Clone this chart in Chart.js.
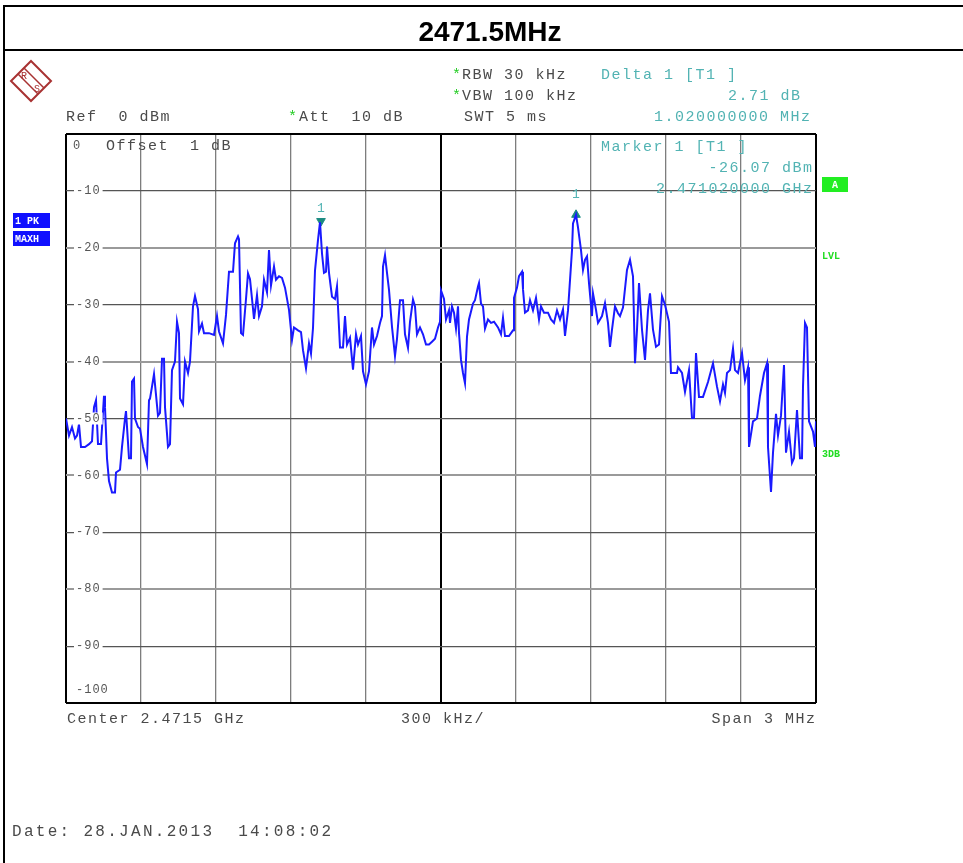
<!DOCTYPE html>
<html>
<head>
<meta charset="utf-8">
<title>2471.5MHz</title>
<script src="https://cdn.jsdelivr.net/npm/chart.js@4.4.1/dist/chart.umd.min.js"></script>
<style>
  html, body { margin: 0; padding: 0; background: #fff; }
  #wrap { position: relative; width: 963px; height: 863px; }
</style>
</head>
<body>
<div id="wrap"><canvas id="spec" width="963" height="863"></canvas></div>
<script>
// trace: frequency (MHz) and level (dBm)
var traceFreq = [
  2470.000, 2470.012, 2470.024, 2470.036, 2470.044, 2470.052, 2470.060, 2470.076, 2470.092, 2470.104,
  2470.112, 2470.120, 2470.128, 2470.140, 2470.152, 2470.156, 2470.164, 2470.172, 2470.184, 2470.196,
  2470.200, 2470.216, 2470.224, 2470.236, 2470.240, 2470.252, 2470.260, 2470.264, 2470.272, 2470.276,
  2470.288, 2470.296, 2470.308, 2470.324, 2470.332, 2470.336, 2470.344, 2470.352, 2470.356, 2470.368,
  2470.376, 2470.384, 2470.392, 2470.396, 2470.408, 2470.416, 2470.424, 2470.436, 2470.444, 2470.452,
  2470.456, 2470.468, 2470.476, 2470.488, 2470.496, 2470.508, 2470.516, 2470.528, 2470.532, 2470.544,
  2470.552, 2470.572, 2470.592, 2470.604, 2470.612, 2470.628, 2470.640, 2470.652, 2470.668, 2470.676,
  2470.688, 2470.692, 2470.700, 2470.708, 2470.720, 2470.728, 2470.736, 2470.748, 2470.752, 2470.764,
  2470.772, 2470.784, 2470.792, 2470.804, 2470.812, 2470.820, 2470.832, 2470.840, 2470.852, 2470.864,
  2470.876, 2470.892, 2470.904, 2470.912, 2470.928, 2470.940, 2470.948, 2470.960, 2470.972, 2470.980,
  2470.988, 2470.996, 2471.008, 2471.016, 2471.024, 2471.032, 2471.040, 2471.044, 2471.052, 2471.064,
  2471.076, 2471.084, 2471.096, 2471.108, 2471.116, 2471.124, 2471.136, 2471.148, 2471.160, 2471.168,
  2471.180, 2471.188, 2471.200, 2471.212, 2471.224, 2471.232, 2471.244, 2471.256, 2471.264, 2471.268,
  2471.276, 2471.284, 2471.292, 2471.304, 2471.316, 2471.324, 2471.336, 2471.348, 2471.356, 2471.368,
  2471.376, 2471.388, 2471.396, 2471.404, 2471.416, 2471.428, 2471.440, 2471.452, 2471.464, 2471.476,
  2471.488, 2471.496, 2471.500, 2471.512, 2471.520, 2471.532, 2471.536, 2471.544, 2471.552, 2471.560,
  2471.568, 2471.572, 2471.580, 2471.588, 2471.596, 2471.604, 2471.612, 2471.628, 2471.636, 2471.648,
  2471.652, 2471.660, 2471.668, 2471.676, 2471.688, 2471.700, 2471.712, 2471.728, 2471.740, 2471.748,
  2471.756, 2471.772, 2471.788, 2471.792, 2471.804, 2471.812, 2471.824, 2471.828, 2471.836, 2471.848,
  2471.856, 2471.868, 2471.880, 2471.892, 2471.900, 2471.912, 2471.928, 2471.940, 2471.952, 2471.964,
  2471.976, 2471.988, 2471.996, 2472.008, 2472.024, 2472.028, 2472.040, 2472.048, 2472.060, 2472.068,
  2472.076, 2472.084, 2472.092, 2472.104, 2472.108, 2472.120, 2472.128, 2472.144, 2472.156, 2472.168,
  2472.176, 2472.184, 2472.196, 2472.208, 2472.216, 2472.228, 2472.244, 2472.256, 2472.268, 2472.276,
  2472.284, 2472.292, 2472.304, 2472.316, 2472.328, 2472.336, 2472.348, 2472.360, 2472.372, 2472.384,
  2472.396, 2472.412, 2472.420, 2472.424, 2472.444, 2472.448, 2472.464, 2472.476, 2472.492, 2472.504,
  2472.512, 2472.520, 2472.532, 2472.548, 2472.568, 2472.588, 2472.604, 2472.616, 2472.628, 2472.636,
  2472.644, 2472.656, 2472.668, 2472.676, 2472.688, 2472.704, 2472.716, 2472.728, 2472.732, 2472.748,
  2472.764, 2472.776, 2472.792, 2472.804, 2472.808, 2472.820, 2472.828, 2472.840, 2472.848, 2472.860,
  2472.872, 2472.880, 2472.892, 2472.904, 2472.912, 2472.924, 2472.936, 2472.944, 2472.948, 2472.956,
  2472.964, 2472.972, 2472.988, 2472.996, 2473.000
];
var traceLevel = [
  -50.0, -53.0, -51.5, -53.5, -53.0, -51.0, -55.0, -55.0, -54.5, -54.0,
  -48.0, -46.8, -54.5, -54.5, -46.0, -48.0, -57.0, -61.0, -63.0, -63.0,
  -59.5, -59.0, -55.0, -50.0, -48.7, -57.0, -57.0, -43.5, -43.0, -50.0,
  -51.5, -51.8, -55.0, -58.0, -46.8, -46.5, -44.4, -42.2, -44.0, -49.5,
  -49.0, -39.5, -39.5, -48.0, -55.0, -54.5, -41.5, -40.0, -33.0, -35.0,
  -46.5, -47.5, -40.0, -42.0, -40.0, -30.3, -28.5, -30.8, -34.7, -33.3,
  -35.0, -35.0, -35.3, -32.0, -34.7, -36.8, -31.8, -24.2, -24.2, -19.2,
  -18.0, -18.5, -35.0, -35.3, -29.0, -24.5, -25.5, -30.7, -32.5, -28.3,
  -32.0, -30.3, -25.6, -27.8, -20.4, -26.6, -23.3, -25.6, -25.0, -25.3,
  -27.0, -30.9, -36.2, -34.0, -34.5, -34.8, -38.0, -41.2, -36.8, -38.6,
  -34.1, -24.0, -18.6, -15.5, -21.0, -24.4, -24.2, -19.8, -24.4, -28.6,
  -29.0, -26.8, -37.5, -37.5, -32.0, -37.0, -35.8, -41.4, -35.2, -37.0,
  -35.5, -41.7, -44.0, -41.7, -34.0, -37.0, -35.5, -33.2, -32.0, -23.3,
  -21.3, -24.4, -27.4, -33.9, -39.0, -36.0, -29.2, -29.2, -35.2, -37.6,
  -33.0, -29.1, -30.3, -35.2, -34.0, -35.2, -37.0, -37.0, -36.5, -36.0,
  -34.0, -33.0, -27.5, -29.0, -32.6, -31.0, -33.2, -30.3, -31.4, -34.2,
  -30.3, -35.0, -39.7, -42.0, -43.8, -35.6, -32.6, -29.8, -29.2, -26.8,
  -26.2, -29.8, -30.3, -34.2, -32.6, -33.2, -33.0, -34.0, -35.2, -32.3,
  -35.5, -35.5, -34.5, -28.8, -27.0, -25.0, -24.2, -27.3, -31.4, -31.0,
  -29.2, -31.0, -28.8, -32.6, -30.3, -31.4, -31.4, -32.6, -33.2, -31.0,
  -32.6, -30.8, -35.5, -31.0, -20.4, -15.7, -14.2, -16.4, -20.4, -23.9,
  -22.1, -21.5, -26.2, -32.0, -28.0, -30.9, -33.2, -32.0, -29.7, -33.2,
  -37.4, -34.4, -30.3, -31.5, -32.0, -30.5, -23.9, -22.1, -25.0, -40.3,
  -34.4, -26.2, -34.4, -39.7, -31.0, -28.0, -34.4, -37.4, -37.0, -28.5,
  -30.0, -33.0, -42.0, -42.0, -42.0, -41.0, -42.0, -45.3, -41.5, -49.9,
  -49.9, -38.5, -46.2, -46.2, -43.6, -40.3, -44.4, -47.0, -44.0, -45.5,
  -42.0, -41.5, -37.7, -41.5, -42.0, -38.5, -43.3, -41.0, -55.0, -50.5,
  -50.0, -46.0, -42.0, -40.3, -55.0, -62.9, -56.0, -49.2, -53.0, -49.5,
  -40.6, -56.0, -52.3, -57.8, -57.0, -48.5, -57.0, -57.0, -44.4, -33.2,
  -34.0, -50.5, -52.3, -55.0, -50.5
];

// markers: 1 (normal) and delta 1
var markerFreq = [2471.02, 2472.04];
var markerLevel = [-15.3, -14.2];
var markerLabel = ['1', '1'];

// axes
var freqStart = 2470.0;
var freqStop = 2473.0;
var freqCenter = 2471.5;
var xGrid = [2470.0, 2470.3, 2470.6, 2470.9, 2471.2, 2471.5, 2471.8, 2472.1, 2472.4, 2472.7, 2473.0];
var levelTop = 0;
var levelBottom = -100;
var yTickLabels = ['0', '-10', '-20', '-30', '-40', '-50', '-60', '-70', '-80', '-90', '-100'];
var yGrid = [0, -10, -20, -30, -40, -50, -60, -70, -80, -90, -100];

var MONO = "'Liberation Mono', 'DejaVu Sans Mono', monospace";
var TEAL = '#52b3b3';
var GRAY_TXT = '#4a4a4a';

function monoText(ctx, txt, x, y, size, color, align, spacing) {
    var sp = (spacing === undefined ? 1.5 : spacing);
    ctx.font = size + 'px ' + MONO;
    ctx.fillStyle = color;
    ctx.letterSpacing = sp + 'px';
    ctx.textBaseline = 'middle';
    ctx.textAlign = 'left';
    if (align == 'right') {
        var w = ctx.measureText(txt).width - sp;
        ctx.fillText(txt, x - w, y);
    } else {
        ctx.fillText(txt, x, y);
    }
    ctx.letterSpacing = '0px';
}

function drawLogo(ctx, cx, cy, r) {
    ctx.save();
    ctx.strokeStyle = '#a83232';
    ctx.lineWidth = 2;
    ctx.beginPath();
    ctx.moveTo(cx, cy - r);
    ctx.lineTo(cx + r, cy);
    ctx.lineTo(cx, cy + r);
    ctx.lineTo(cx - r, cy);
    ctx.closePath();
    ctx.stroke();
    ctx.lineWidth = 1.5;
    ctx.beginPath();
    ctx.moveTo(cx - r / 2 - 3, cy - r / 2 + 3);
    ctx.lineTo(cx + r / 2 - 3, cy + r / 2 + 3);
    ctx.moveTo(cx - r / 2 + 3, cy - r / 2 - 3);
    ctx.lineTo(cx + r / 2 + 3, cy + r / 2 - 3);
    ctx.stroke();
    ctx.fillStyle = '#a83232';
    ctx.font = '10px ' + MONO;
    ctx.textAlign = 'center';
    ctx.textBaseline = 'middle';
    ctx.fillText('R', cx - 7, cy - 5);
    ctx.fillText('S', cx + 6, cy + 8);
    ctx.restore();
}

var pagePlugin = {
    id: 'page',
    beforeDraw: function(chart) {
        var ctx = chart.ctx;
        ctx.save();
        ctx.fillStyle = '#fff';
        ctx.fillRect(0, 0, chart.width, chart.height);
        ctx.restore();
    },
    afterDraw: function(chart) {
        var ctx = chart.ctx;
        var area = chart.chartArea;
        var xs = chart.scales.x;
        var ys = chart.scales.y;
        ctx.save();

        // outer frame and title row
        ctx.strokeStyle = '#000';
        ctx.lineWidth = 2;
        ctx.beginPath();
        ctx.moveTo(4, 863);
        ctx.lineTo(4, 6);
        ctx.lineTo(963, 6);
        ctx.moveTo(4, 50);
        ctx.lineTo(963, 50);
        ctx.stroke();

        ctx.font = "bold 28px 'Liberation Sans', Arial, sans-serif";
        ctx.fillStyle = '#000';
        ctx.textAlign = 'center';
        ctx.textBaseline = 'middle';
        ctx.fillText('2471.5MHz', 490, 33);

        drawLogo(ctx, 31, 81, 20);

        // header block
        monoText(ctx, '*', 452, 75, 15, '#22cc22', 'left', 0);
        monoText(ctx, 'RBW 30 kHz', 462, 75, 15, GRAY_TXT);
        monoText(ctx, '*', 452, 96, 15, '#22cc22', 'left', 0);
        monoText(ctx, 'VBW 100 kHz', 462, 96, 15, GRAY_TXT);
        monoText(ctx, 'Ref  0 dBm', 66, 117, 15, GRAY_TXT);
        monoText(ctx, '*', 288, 117, 15, '#22cc22', 'left', 0);
        monoText(ctx, 'Att  10 dB', 299, 117, 15, GRAY_TXT);
        monoText(ctx, 'SWT 5 ms', 464, 117, 15, GRAY_TXT);
        monoText(ctx, 'Delta 1 [T1 ]', 601, 75, 15, TEAL);
        monoText(ctx, '2.71 dB', 800, 96, 15, TEAL, 'right');
        monoText(ctx, '1.020000000 MHz', 810, 117, 15, TEAL, 'right');

        // text inside the grid
        monoText(ctx, 'Marker 1 [T1 ]', 601, 147, 15, TEAL);
        monoText(ctx, '-26.07 dBm', 812, 168, 15, TEAL, 'right');
        monoText(ctx, '2.471020000 GHz', 812, 189, 15, TEAL, 'right');
        monoText(ctx, 'Offset  1 dB', 106, 146, 15, GRAY_TXT);

        // level labels on the grid, with a white gap behind them
        ctx.font = '12px ' + MONO;
        yGrid.forEach(function(v, i) {
            var py = ys.getPixelForValue(v);
            if (v == levelTop) py += 12;
            else if (v == levelBottom) py -= 13;
            var txt = yTickLabels[i];
            ctx.letterSpacing = '1px';
            var w = ctx.measureText(txt).width;
            var x0 = area.left + (v == levelTop ? 7 : 10);
            if (v != levelTop && v != levelBottom) {
                ctx.fillStyle = '#fff';
                ctx.fillRect(x0 - 2, py - 6, w + 4, 12);
            }
            ctx.fillStyle = '#555';
            ctx.textAlign = 'left';
            ctx.textBaseline = 'middle';
            ctx.fillText(txt, x0, py);
            ctx.letterSpacing = '0px';
        });

        // marker numbers
        ctx.font = '13px ' + MONO;
        ctx.fillStyle = TEAL;
        ctx.textAlign = 'center';
        ctx.textBaseline = 'middle';
        markerFreq.forEach(function(f, i) {
            var px = xs.getPixelForValue(f);
            var py = ys.getPixelForValue(markerLevel[i]);
            ctx.fillText(markerLabel[i], px, i == 0 ? py - 12 : py - 20);
        });

        // left soft keys
        ctx.fillStyle = '#1010ff';
        ctx.fillRect(13, 213, 37, 15);
        ctx.fillRect(13, 231, 37, 15);
        ctx.fillStyle = '#fff';
        ctx.font = 'bold 10px ' + MONO;
        ctx.textAlign = 'left';
        ctx.fillText('1 PK', 15, 221);
        ctx.fillText('MAXH', 15, 239);

        // right side flags
        ctx.fillStyle = '#22ee22';
        ctx.fillRect(822, 177, 26, 15);
        ctx.fillStyle = '#fff';
        ctx.font = 'bold 10px ' + MONO;
        ctx.textAlign = 'center';
        ctx.fillText('A', 835, 185);
        ctx.fillStyle = '#22dd22';
        ctx.textAlign = 'left';
        ctx.fillText('LVL', 822, 256);
        ctx.fillText('3DB', 822, 454);

        // bottom annotations
        monoText(ctx, 'Center 2.4715 GHz', 67, 719, 15, GRAY_TXT);
        monoText(ctx, '300 kHz/', 401, 719, 15, GRAY_TXT);
        monoText(ctx, 'Span 3 MHz', 815, 719, 15, GRAY_TXT, 'right');
        monoText(ctx, 'Date: 28.JAN.2013  14:08:02', 12, 832, 16, GRAY_TXT, 'left', 2.3);

        ctx.restore();
    }
};

var traceData = traceFreq.map(function(f, i) { return {x: f, y: traceLevel[i]}; });
var markerData = markerFreq.map(function(f, i) { return {x: f, y: markerLevel[i]}; });

var specCtx = document.getElementById('spec').getContext('2d');
var specChart = new Chart(specCtx, {
    type: 'line',
    data: {
        datasets: [{
            label: 'Trace 1',
            data: traceData,
            borderColor: '#1a1aff',
            borderWidth: 2,
            pointRadius: 0,
            tension: 0,
            fill: false
        }, {
            label: 'Markers',
            data: markerData,
            showLine: false,
            pointStyle: 'triangle',
            pointRadius: 5,
            pointRotation: [180, 0],
            pointBackgroundColor: '#1a8a80',
            pointBorderColor: '#1a8a80',
            pointBorderWidth: 1
        }]
    },
    options: {
        responsive: false,
        animation: false,
        events: [],
        layout: { padding: { left: 66, right: 147, top: 134, bottom: 160 } },
        plugins: {
            legend: { display: false },
            tooltip: { enabled: false },
            title: { display: false }
        },
        scales: {
            x: {
                type: 'linear',
                min: freqStart,
                max: freqStop,
                afterBuildTicks: function(s) { s.ticks = xGrid.map(function(v) { return {value: v}; }); },
                afterFit: function(s) { s.height = 0; },
                ticks: { display: false },
                border: { display: false },
                grid: {
                    drawTicks: false,
                    color: function(c) {
                        var v = c.tick && c.tick.value;
                        if (v == freqStart || v == freqStop || v == freqCenter) return '#000';
                        return '#7d7d7d';
                    },
                    lineWidth: function(c) {
                        var v = c.tick && c.tick.value;
                        if (v == freqStart || v == freqStop || v == freqCenter) return 2;
                        return 1.3;
                    }
                }
            },
            y: {
                min: levelBottom,
                max: levelTop,
                afterBuildTicks: function(s) { s.ticks = yGrid.map(function(v) { return {value: v}; }); },
                afterFit: function(s) { s.width = 0; },
                ticks: { display: false },
                border: { display: false },
                grid: {
                    drawTicks: false,
                    color: function(c) {
                        var v = c.tick && c.tick.value;
                        if (v == levelTop || v == levelBottom) return '#000';
                        return (v / 10) % 2 == 0 ? '#9a9a9a' : '#555';
                    },
                    lineWidth: function(c) {
                        var v = c.tick && c.tick.value;
                        if (v == levelTop || v == levelBottom) return 2;
                        return (v / 10) % 2 == 0 ? 2 : 1.2;
                    }
                }
            }
        }
    },
    plugins: [pagePlugin]
});
</script>
</body>
</html>
